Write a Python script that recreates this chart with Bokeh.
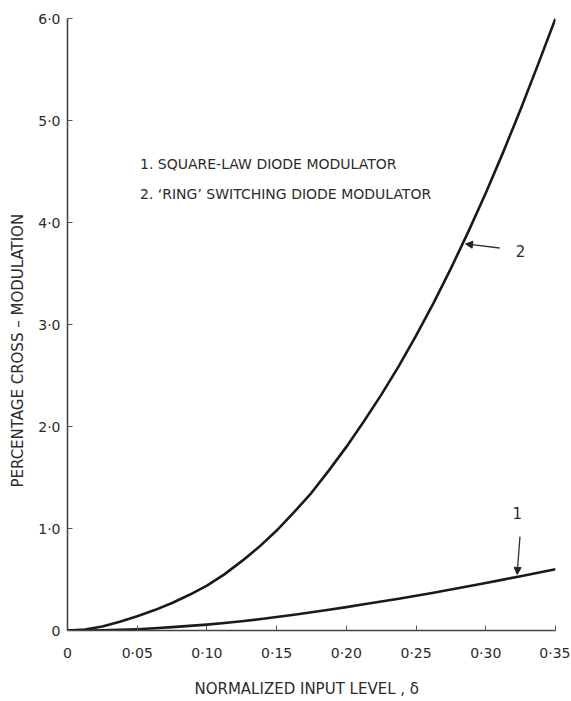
from bokeh.plotting import figure
from bokeh.models import (ColumnDataSource, FixedTicker, Label, Arrow, NormalHead, Range1d)
from bokeh.embed import file_html
from bokeh.resources import INLINE

# ---- data ----
x_vals = [0.0, 0.0125, 0.025, 0.0375, 0.05, 0.0625, 0.075, 0.0875, 0.10, 0.1125,
          0.125, 0.1375, 0.15, 0.1625, 0.175, 0.1875, 0.20, 0.2125, 0.225, 0.2375,
          0.25, 0.2625, 0.275, 0.2875, 0.30, 0.3125, 0.325, 0.3375, 0.35]
ring_switching = [0.0, 0.01, 0.04, 0.085, 0.14, 0.20, 0.27, 0.35, 0.44, 0.55,
                  0.68, 0.82, 0.98, 1.16, 1.35, 1.57, 1.80, 2.05, 2.31, 2.59,
                  2.89, 3.21, 3.55, 3.91, 4.29, 4.69, 5.11, 5.55, 6.0]
square_law = [0.0, 0.0, 0.002, 0.006, 0.013, 0.022, 0.033, 0.045, 0.058, 0.073,
              0.090, 0.110, 0.132, 0.155, 0.179, 0.204, 0.229, 0.257, 0.284, 0.312,
              0.341, 0.371, 0.402, 0.434, 0.466, 0.499, 0.532, 0.566, 0.600]

x_ticks = [0.0, 0.05, 0.10, 0.15, 0.20, 0.25, 0.30, 0.35]
x_tick_labels = ["0", "0·05", "0·10", "0·15", "0·20", "0·25", "0·30", "0·35"]
y_ticks = [0, 1, 2, 3, 4, 5, 6]
y_tick_labels = ["0", "1·0", "2·0", "3·0", "4·0", "5·0", "6·0"]

legend_lines = ["1.  SQUARE-LAW DIODE MODULATOR", "2. ‘RING’ SWITCHING DIODE MODULATOR"]
legend_pos = [(0.052, 4.57), (0.052, 4.28)]
# annotation arrows: (x_start, y_start, x_end, y_end), label position
arrow2 = (0.310, 3.75, 0.2855, 3.79)
arrow2_label = (0.3215, 3.72, "2")
arrow1 = (0.3245, 0.92, 0.3225, 0.55)
arrow1_label = (0.3225, 1.15, "1")

FONT = "DejaVu Sans"
INK = "#2b2b2b"
NB = "\u00a0"

p = figure(width=570, height=700, output_backend="svg", toolbar_location=None,
           x_range=Range1d(0, 0.35), y_range=Range1d(0, 6.0),
           min_border_left=67, min_border_right=15, min_border_top=18, min_border_bottom=40)
p.outline_line_color = None
p.grid.visible = False
p.background_fill_color = "white"

src = ColumnDataSource(dict(x=x_vals, y1=square_law, y2=ring_switching))
p.line("x", "y2", source=src, line_color="#1a1a1a", line_width=2.6, line_join="round")
p.line("x", "y1", source=src, line_color="#1a1a1a", line_width=2.6, line_join="round")

for ax in (p.xaxis[0], p.yaxis[0]):
    ax.axis_line_color = "#444444"
    ax.axis_line_width = 1.6
    ax.major_tick_line_color = "#555555"
    ax.major_tick_in = 5
    ax.major_tick_out = 0
    ax.minor_tick_line_color = None
    ax.major_label_text_font = FONT
    ax.major_label_text_font_size = "14px"
    ax.major_label_text_color = INK
    ax.axis_label_text_font = FONT
    ax.axis_label_text_font_size = "15px"
    ax.axis_label_text_font_style = "normal"
    ax.axis_label_text_color = INK

p.xaxis.ticker = FixedTicker(ticks=x_ticks)
p.xaxis.major_label_overrides = dict(zip(x_ticks, x_tick_labels))
p.yaxis.ticker = FixedTicker(ticks=y_ticks)
p.yaxis.major_label_overrides = dict(zip(y_ticks, y_tick_labels))
p.xaxis.axis_label = "NORMALIZED  INPUT  LEVEL , δ"
p.yaxis.axis_label = "PERCENTAGE  CROSS – MODULATION" + NB * 10
p.xaxis.major_label_standoff = 14
p.xaxis.axis_label_standoff = 16
p.yaxis.major_label_standoff = 7
p.yaxis.axis_label_standoff = 8

for (lx, ly), txt in zip(legend_pos, legend_lines):
    p.add_layout(Label(x=lx, y=ly, text=txt, text_font=FONT, text_font_size="14px",
                       text_color=INK, text_baseline="middle"))

for a, lab in ((arrow2, arrow2_label), (arrow1, arrow1_label)):
    p.add_layout(Arrow(x_start=a[0], y_start=a[1], x_end=a[2], y_end=a[3],
                       line_color="#333333", line_width=1.3,
                       end=NormalHead(size=7, fill_color="#222222", line_color="#222222")))
    p.add_layout(Label(x=lab[0], y=lab[1], text=lab[2], text_font=FONT,
                       text_font_size="15px", text_color=INK,
                       text_baseline="middle", text_align="left" if lab[2] == "2" else "center"))

open("out.html", "w").write(file_html(p, INLINE))
